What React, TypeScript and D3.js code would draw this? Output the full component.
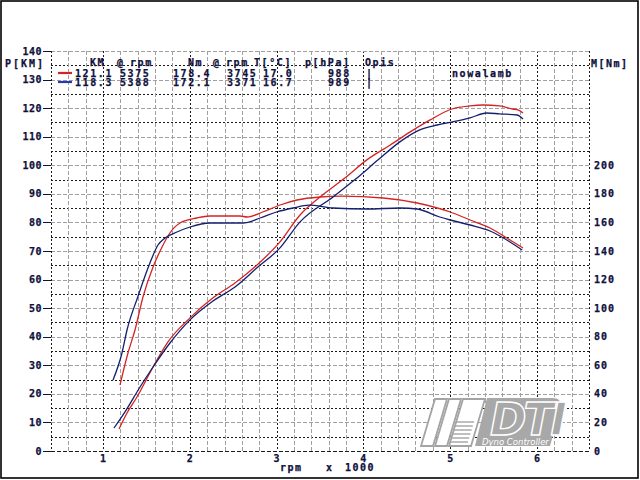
import React from "react";
import * as d3 from "d3";

// ---- data (rpm in thousands) ----
const redPowerRpm = [1.184, 1.276, 1.391, 1.576, 1.748, 2.002, 2.267, 2.52, 2.774, 3.039, 3.27, 3.5, 3.79, 4.04, 4.31, 4.54, 4.77, 5.02, 5.23, 5.38, 5.57, 5.72, 5.78, 5.84];
const redPowerKm = [7.7, 13.3, 18.9, 29.4, 38.2, 46.6, 53.6, 58.8, 65.1, 73.2, 82.6, 88.9, 95.6, 101.9, 107.1, 111.7, 115.9, 119.7, 120.8, 121.1, 120.8, 119.7, 119.4, 118.3];

const bluePowerRpm = [1.126, 1.253, 1.426, 1.576, 1.771, 2.002, 2.267, 2.52, 2.774, 3.039, 3.27, 3.65, 3.9, 4.17, 4.42, 4.65, 4.85, 5.03, 5.23, 5.42, 5.57, 5.77, 5.84];
const bluePowerKm = [8.05, 13.7, 22.4, 29.4, 37.8, 45.9, 52.5, 57.4, 64.1, 71.1, 80.2, 88.9, 94.9, 101.9, 108.2, 112.4, 114.1, 115.2, 116.6, 118.3, 118.0, 117.6, 116.2];

const redTorqueRpm = [1.195, 1.287, 1.368, 1.46, 1.576, 1.68, 1.77, 1.887, 2.08, 2.23, 2.58, 2.66, 2.84, 3.04, 3.235, 3.5, 3.745, 4.23, 4.62, 5.0, 5.23, 5.46, 5.69, 5.84];
const redTorqueNm = [46.2, 68.6, 84.7, 107.8, 128.8, 142.8, 152.6, 159.6, 163.1, 164.5, 164.5, 163.8, 167.3, 172.2, 175.7, 177.8, 178.4, 177.1, 173.6, 167.3, 161.7, 156.1, 147.7, 142.1];

const blueTorqueRpm = [1.115, 1.218, 1.276, 1.4, 1.54, 1.633, 1.714, 1.852, 2.002, 2.23, 2.43, 2.61, 2.81, 3.0, 3.19, 3.371, 3.65, 4.04, 4.42, 4.62, 4.88, 5.0, 5.23, 5.46, 5.69, 5.83];
const blueTorqueNm = [49.7, 68.6, 84.7, 107.8, 131.6, 144.2, 149.1, 153.3, 156.8, 159.6, 159.6, 159.6, 163.1, 167.3, 170.1, 172.1, 170.1, 169.4, 170.1, 169.4, 163.8, 161.7, 158.2, 154.0, 146.3, 140.7];

const leftTicks = [0, 10, 20, 30, 40, 50, 60, 70, 80, 90, 100, 110, 120, 130, 140];
const rightTicks = [0, 20, 40, 60, 80, 100, 120, 140, 160, 180, 200];
const xTicks = [1, 2, 3, 4, 5, 6];

const headerLabels = ["KM", "@", "rpm", "Nm", "@", "rpm", "T[°C]", "p[hPa]", "Opis"];
const redRow = ["121.1", "5375", "178.4", "3745", "17.0", "988", "|", "nowalamb"];
const blueRow = ["118.3", "5388", "172.1", "3371", "16.7", "989", "|"];

// ---- layout ----
const W = 640, H = 480;
const X0 = 51, X1 = 589, Y0 = 451, Y1 = 51;
const RED = "#d42424";
const BLUE = "#14206e";
const INK = "#10103c";
const FONT = "'DejaVu Sans Mono', monospace";

const headerX = [90, 117, 130, 188, 213, 226, 254, 305, 365];
const rowX = [75, 120, 173, 227, 263, 328, 366, 452];

export default function App() {
  const x = d3.scaleLinear().domain([0.4, 6.6]).range([X0, X1]);
  const yKm = d3.scaleLinear().domain([0, 140]).range([Y0, Y1]);
  const yNm = d3.scaleLinear().domain([0, 280]).range([Y0, Y1]);

  const mk = (rpm: number[], vals: number[], y: d3.ScaleLinear<number, number>) =>
    d3.line<number>().x((_, i) => x(rpm[i])).y((v) => y(v)).curve(d3.curveMonotoneX)(vals) || "";

  const hGrid = d3.range(1, 28).map((k) => k * 5);
  const vGrid = d3.range(3, 33).map((k) => k / 5);

  const dark = { stroke: "#1a1a1a", strokeDasharray: "2 2", strokeWidth: 1 };
  const gray = { stroke: "#a0a0a0", strokeDasharray: "4 2", strokeWidth: 1 };

  return (
    <svg width={W} height={H} style={{ position: "absolute", left: 0, top: 0, background: "#fff" }}>
      <rect x={0} y={0} width={W} height={H} fill="#fff" />
      <rect x={1} y={1} width={637} height={477} fill="none" stroke="#000" strokeWidth={1.6} />

      {/* grid */}
      <g shapeRendering="crispEdges">
        {hGrid.map((v) => (
          <line key={"h" + v} x1={X0} x2={X1} y1={Math.round(yKm(v)) + 0.5} y2={Math.round(yKm(v)) + 0.5}
            {...(v % 10 === 0 ? gray : dark)} />
        ))}
        {vGrid.map((v, i) => {
          const isInt = Math.abs(v - Math.round(v)) < 1e-6;
          const xx = Math.round(x(v)) + 0.5;
          return <line key={"v" + i} x1={xx} x2={xx} y1={Y1} y2={Y0} {...(isInt ? dark : gray)} />;
        })}
        <line x1={X0} x2={X1} y1={Y1 + 0.5} y2={Y1 + 0.5} {...gray} />
        <line x1={X0 + 0.5} x2={X0 + 0.5} y1={Y1} y2={Y0} {...dark} />
        <line x1={X1 + 0.5} x2={X1 + 0.5} y1={Y1} y2={Y0} {...dark} />
        <line x1={X0} x2={X1} y1={Y0 + 0.5} y2={Y0 + 0.5} stroke="#1a1a1a" strokeDasharray="4 2" />
        {leftTicks.map((t) => (
          <line key={"lt" + t} x1={43} x2={X0} y1={Math.round(yKm(t)) + 0.5} y2={Math.round(yKm(t)) + 0.5} stroke={INK} />
        ))}
      </g>

      {/* logo */}
      <g fill="none" stroke="#a4a4a4" strokeWidth={1.8}>
        <polygon points="435,399 447,399 433,446 421,446" fill="#fff" />
        <polygon points="449,399 461,399 447,446 435,446" fill="#fff" />
        <polygon points="463,399 485,399 471,446 449,446" fill="#fff" />
        {d3.range(0, 6).map((i) => (
          <line key={"ls" + i} x1={456 - i * 1.2} x2={474 - i * 1.2} y1={422 + i * 4} y2={422 + i * 4} strokeWidth={1.4} />
        ))}
      </g>
      <path d="M487,398 L553,398 Q563,398 560,410 L550,446 L475,446 Z" fill="#a8a8a8" />
      <text x={490} y={435} fontFamily="'DejaVu Sans', sans-serif" fontWeight="bold" fontStyle="italic"
        fontSize={44} fill="#a8a8a8" stroke="#fff" strokeWidth={1.4} letterSpacing={-3}>DTI</text>
      <text x={482} y={444.5} fontFamily="'DejaVu Sans', sans-serif" fontStyle="italic" fontSize={8.5} fill="#fff">Dyno Controller</text>

      {/* curves */}
      <g fill="none" strokeWidth={1.3} strokeLinejoin="round">
        <path d={mk(redTorqueRpm, redTorqueNm, yNm)} stroke={RED} />
        <path d={mk(redPowerRpm, redPowerKm, yKm)} stroke={RED} />
        <path d={mk(blueTorqueRpm, blueTorqueNm, yNm)} stroke={BLUE} />
        <path d={mk(bluePowerRpm, bluePowerKm, yKm)} stroke={BLUE} />
      </g>

      {/* axis labels */}
      <g fontFamily={FONT} fontWeight="bold" fontSize={10} fill={INK} stroke={INK} strokeWidth={0.25}>
        {leftTicks.map((t) => (
          <text key={"l" + t} x={42} y={yKm(t) + 3.5} textAnchor="end" letterSpacing={0.5}>{t}</text>
        ))}
        {rightTicks.map((t) => (
          <text key={"r" + t} x={594} y={yNm(t) + 3.5} letterSpacing={1}>{t}</text>
        ))}
        {xTicks.map((t) => (
          <text key={"x" + t} x={x(t)} y={462} textAnchor="middle">{t}</text>
        ))}
        <text x={5} y={67} letterSpacing={2}>P[KM]</text>
        <text x={591} y={67} letterSpacing={1.5}>M[Nm]</text>
        <text x={280} y={471} letterSpacing={1.5}>rpm</text>
        <text x={326} y={471}>x</text>
        <text x={345} y={471} letterSpacing={1.5}>1000</text>
      </g>

      {/* header table */}
      <g fontFamily={FONT} fontWeight="bold" fontSize={10} fill={INK} stroke={INK} strokeWidth={0.25} letterSpacing={1.6}>
        {headerLabels.map((s, i) => (
          <text key={"hd" + i} x={headerX[i]} y={66}>{s}</text>
        ))}
        {redRow.map((s, i) => (
          <text key={"rr" + i} x={rowX[i]} y={77}>{s}</text>
        ))}
        {blueRow.map((s, i) => (
          <text key={"br" + i} x={rowX[i]} y={86}>{s}</text>
        ))}
      </g>
      <line x1={58} x2={72} y1={73} y2={73} stroke={RED} strokeWidth={2.2} />
      <line x1={58} x2={72} y1={82} y2={82} stroke="#2838b0" strokeWidth={2.2} />
    </svg>
  );
}
